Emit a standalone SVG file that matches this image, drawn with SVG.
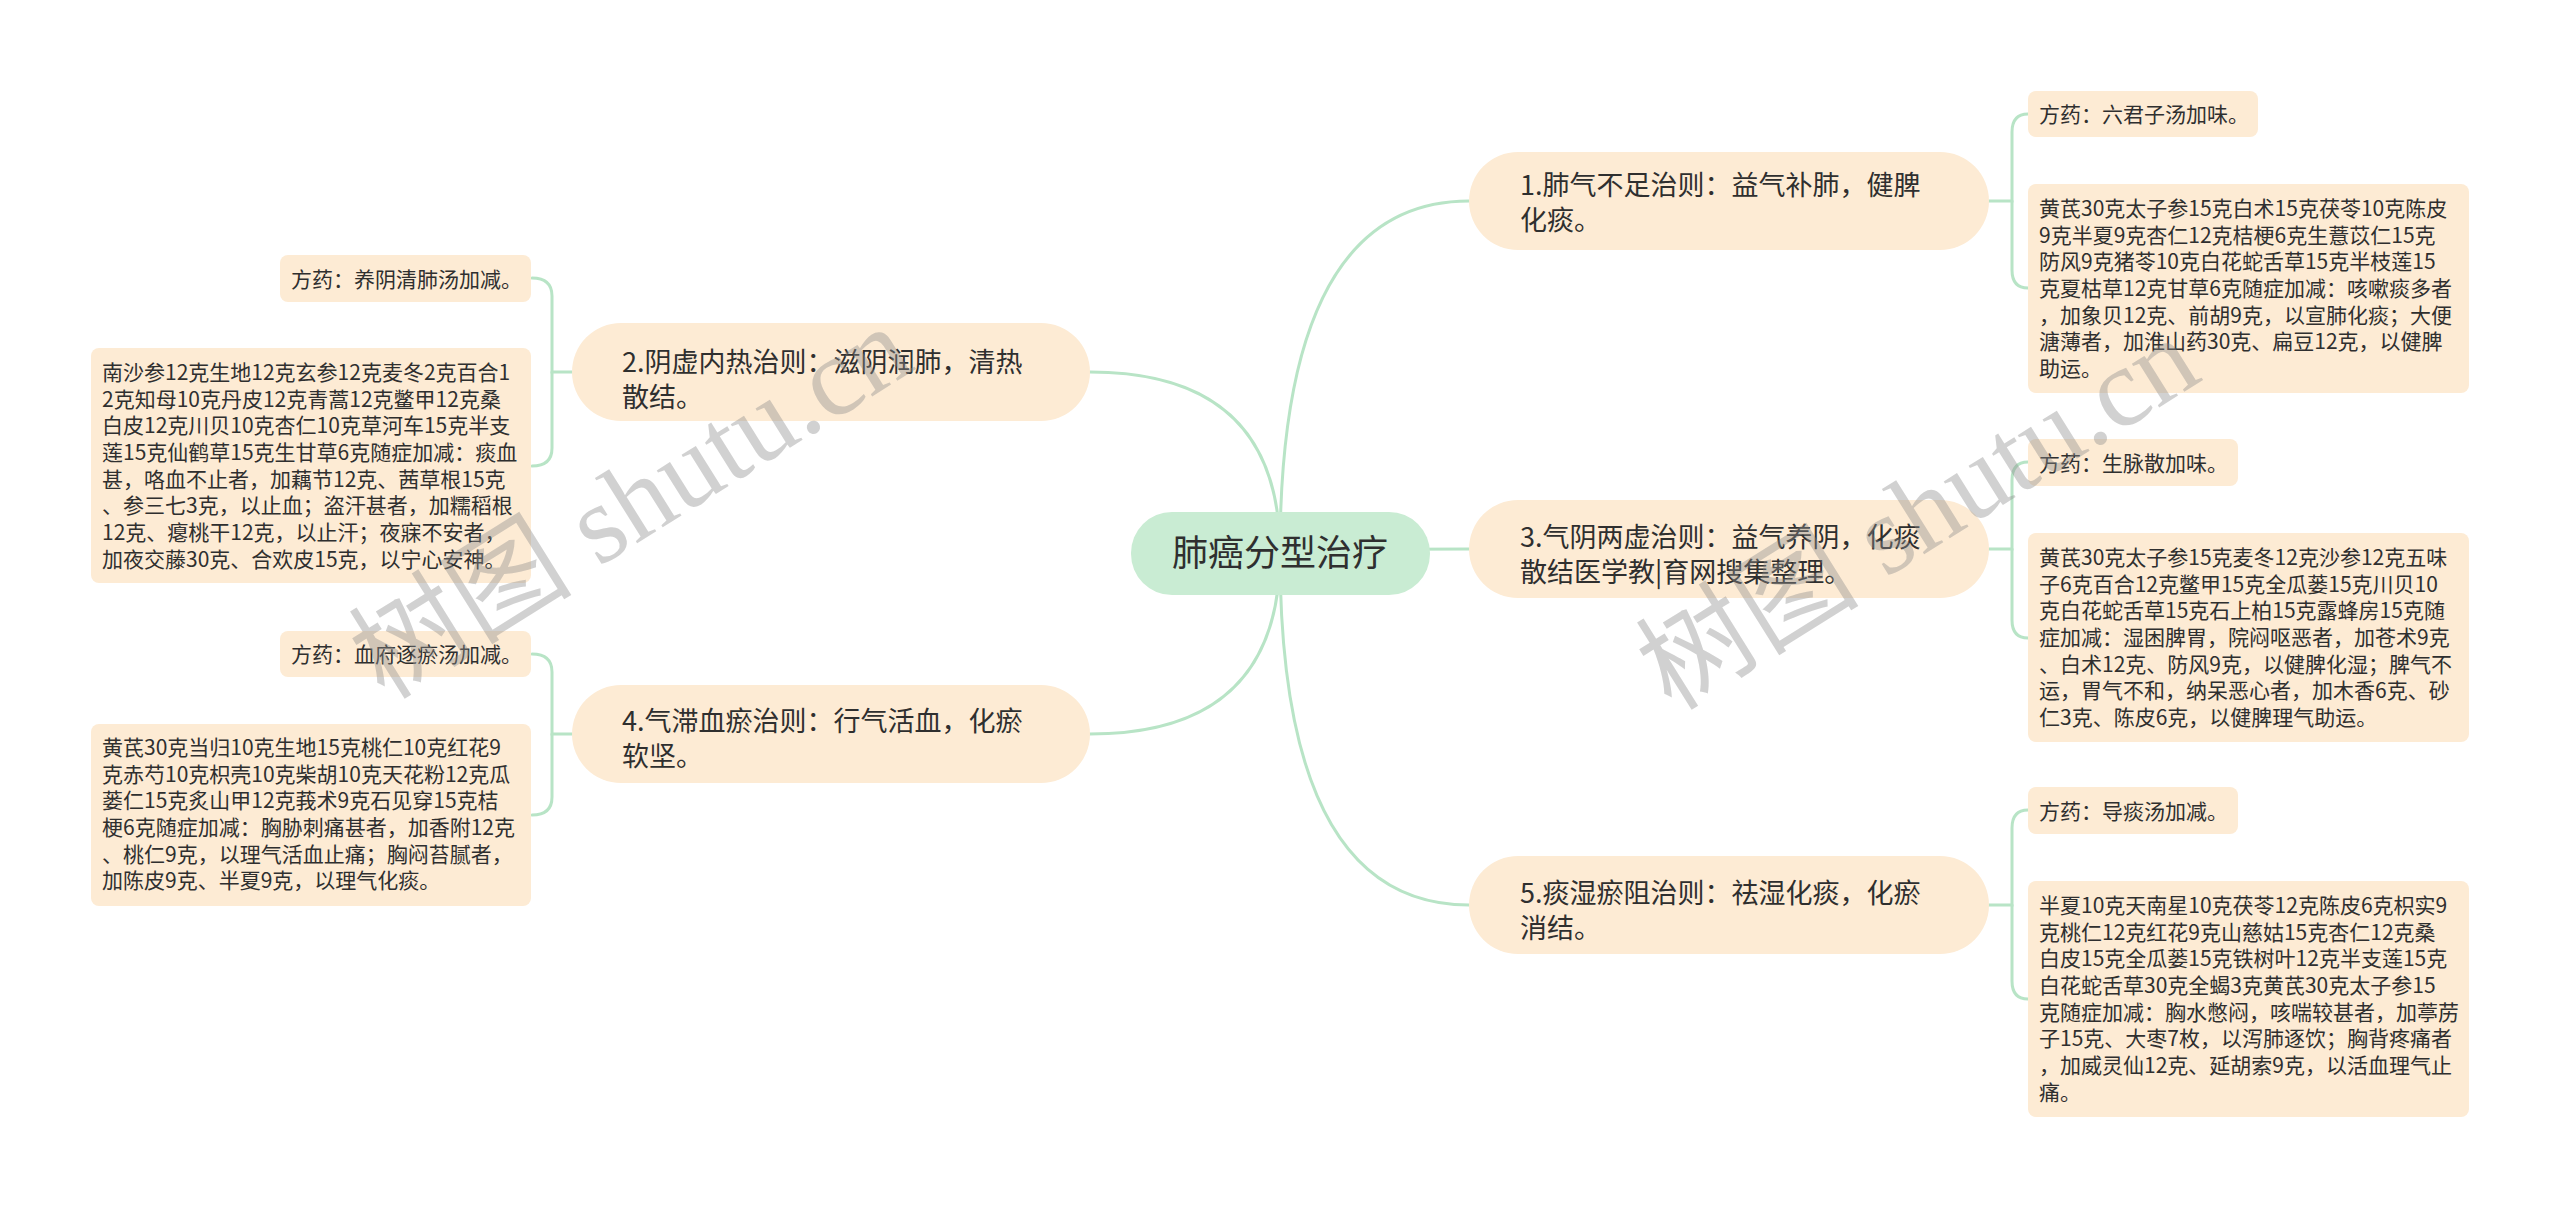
<svg xmlns="http://www.w3.org/2000/svg" width="2560" height="1208" viewBox="0 0 2560 1208">
<defs>
<style>
.bg{fill:#ffffff}
.conn{fill:none;stroke:#b8e4c6;stroke-width:3;stroke-linecap:round}
.root rect{fill:#c9ecd3}
.l1 rect{fill:#fdebd4}
.leaf rect{fill:#fdebd4}
text{font-family:"Noto Sans CJK SC","Noto Sans",sans-serif;fill:#2f2f2f}
.rt{font-size:36px}
.t1{font-size:27px}
.t2{font-size:21px}
.wm{font-family:"Liberation Serif","Noto Sans CJK SC",serif;font-size:112px;fill:#8c8c8c;fill-opacity:0.4}
</style>
</defs>
<rect class="bg" x="0" y="0" width="2560" height="1208"/>
<g id="connectors">
<path class="conn" d="M1280,553 Q1280,201 1469,201"/>
<path class="conn" d="M1280,553 Q1280,549 1469,549"/>
<path class="conn" d="M1280,553 Q1280,905 1469,905"/>
<path class="conn" d="M1280,553 Q1280,372 1090,372"/>
<path class="conn" d="M1280,553 Q1280,734 1090,734"/>
<path class="conn" d="M1989,201 H2012 V132 Q2012,114 2028,114"/>
<path class="conn" d="M2012,201 V270 Q2012,288 2028,288"/>
<path class="conn" d="M1989,549 H2012 V480 Q2012,462 2028,462"/>
<path class="conn" d="M2012,549 V620 Q2012,638 2028,638"/>
<path class="conn" d="M1989,905 H2012 V828 Q2012,810 2028,810"/>
<path class="conn" d="M2012,905 V981 Q2012,999 2028,999"/>
<path class="conn" d="M572,372 H552 V296 Q552,278 532,278"/>
<path class="conn" d="M552,372 V448 Q552,466 532,466"/>
<path class="conn" d="M572,734 H552 V672 Q552,654 532,654"/>
<path class="conn" d="M552,734 V797 Q552,815 532,815"/>
</g>
<g id="root" class="root">
<rect x="1131" y="512" width="299" height="83" rx="41"/>
<text class="rt" x="1280" y="566" text-anchor="middle">肺癌分型治疗</text>
</g>
<g id="n1" class="l1">
<rect x="1469" y="152" width="520" height="98" rx="49"/>
<text class="t1" x="1520" y="195">1.肺气不足治则：益气补肺，健脾</text>
<text class="t1" x="1520" y="230">化痰。</text>
</g>
<g id="n2" class="l1">
<rect x="572" y="323" width="518" height="98" rx="49"/>
<text class="t1" x="622" y="372">2.阴虚内热治则：滋阴润肺，清热</text>
<text class="t1" x="622" y="407">散结。</text>
</g>
<g id="n3" class="l1">
<rect x="1469" y="500" width="520" height="98" rx="49"/>
<text class="t1" x="1520" y="547">3.气阴两虚治则：益气养阴，化痰</text>
<text class="t1" x="1520" y="582">散结医学教|育网搜集整理。</text>
</g>
<g id="n4" class="l1">
<rect x="572" y="685" width="518" height="98" rx="49"/>
<text class="t1" x="622" y="731">4.气滞血瘀治则：行气活血，化瘀</text>
<text class="t1" x="622" y="766">软坚。</text>
</g>
<g id="n5" class="l1">
<rect x="1469" y="856" width="520" height="98" rx="49"/>
<text class="t1" x="1520" y="903">5.痰湿瘀阻治则：祛湿化痰，化瘀</text>
<text class="t1" x="1520" y="938">消结。</text>
</g>
<g id="n1a" class="leaf">
<rect x="2028" y="91" width="230" height="46" rx="8"/>
<text class="t2" x="2039" y="122">方药：六君子汤加味。</text>
</g>
<g id="n1b" class="leaf">
<rect x="2028" y="184" width="441" height="209" rx="8"/>
<text class="t2" x="2039" y="216">
<tspan x="2039" y="216">黄芪30克太子参15克白术15克茯苓10克陈皮</tspan>
<tspan x="2039" y="242.7">9克半夏9克杏仁12克桔梗6克生薏苡仁15克</tspan>
<tspan x="2039" y="269.3">防风9克猪苓10克白花蛇舌草15克半枝莲15</tspan>
<tspan x="2039" y="296">克夏枯草12克甘草6克随症加减：咳嗽痰多者</tspan>
<tspan x="2039" y="322.7">，加象贝12克、前胡9克，以宣肺化痰；大便</tspan>
<tspan x="2039" y="349.3">溏薄者，加淮山药30克、扁豆12克，以健脾</tspan>
<tspan x="2039" y="376">助运。</tspan>
</text>
</g>
<g id="n3a" class="leaf">
<rect x="2028" y="439" width="210" height="47" rx="8"/>
<text class="t2" x="2039" y="471">方药：生脉散加味。</text>
</g>
<g id="n3b" class="leaf">
<rect x="2028" y="533" width="441" height="209" rx="8"/>
<text class="t2" x="2039" y="565">
<tspan x="2039" y="565">黄芪30克太子参15克麦冬12克沙参12克五味</tspan>
<tspan x="2039" y="591.7">子6克百合12克鳖甲15克全瓜蒌15克川贝10</tspan>
<tspan x="2039" y="618.3">克白花蛇舌草15克石上柏15克露蜂房15克随</tspan>
<tspan x="2039" y="645">症加减：湿困脾胃，院闷呕恶者，加苍术9克</tspan>
<tspan x="2039" y="671.7">、白术12克、防风9克，以健脾化湿；脾气不</tspan>
<tspan x="2039" y="698.3">运，胃气不和，纳呆恶心者，加木香6克、砂</tspan>
<tspan x="2039" y="725">仁3克、陈皮6克，以健脾理气助运。</tspan>
</text>
</g>
<g id="n5a" class="leaf">
<rect x="2028" y="787" width="210" height="47" rx="8"/>
<text class="t2" x="2039" y="819">方药：导痰汤加减。</text>
</g>
<g id="n5b" class="leaf">
<rect x="2028" y="881" width="441" height="236" rx="8"/>
<text class="t2" x="2039" y="913">
<tspan x="2039" y="913">半夏10克天南星10克茯苓12克陈皮6克枳实9</tspan>
<tspan x="2039" y="939.7">克桃仁12克红花9克山慈姑15克杏仁12克桑</tspan>
<tspan x="2039" y="966.3">白皮15克全瓜蒌15克铁树叶12克半支莲15克</tspan>
<tspan x="2039" y="993">白花蛇舌草30克全蝎3克黄芪30克太子参15</tspan>
<tspan x="2039" y="1019.7">克随症加减：胸水憋闷，咳喘较甚者，加葶苈</tspan>
<tspan x="2039" y="1046.3">子15克、大枣7枚，以泻肺逐饮；胸背疼痛者</tspan>
<tspan x="2039" y="1073">，加威灵仙12克、延胡索9克，以活血理气止</tspan>
<tspan x="2039" y="1099.7">痛。</tspan>
</text>
</g>
<g id="n2a" class="leaf">
<rect x="280" y="255" width="251" height="47" rx="8"/>
<text class="t2" x="291" y="287">方药：养阴清肺汤加减。</text>
</g>
<g id="n2b" class="leaf">
<rect x="91" y="348" width="440" height="235" rx="8"/>
<text class="t2" x="102" y="380">
<tspan x="102" y="380">南沙参12克生地12克玄参12克麦冬2克百合1</tspan>
<tspan x="102" y="406.7">2克知母10克丹皮12克青蒿12克鳖甲12克桑</tspan>
<tspan x="102" y="433.3">白皮12克川贝10克杏仁10克草河车15克半支</tspan>
<tspan x="102" y="460">莲15克仙鹤草15克生甘草6克随症加减：痰血</tspan>
<tspan x="102" y="486.7">甚，咯血不止者，加藕节12克、茜草根15克</tspan>
<tspan x="102" y="513.3">、参三七3克，以止血；盗汗甚者，加糯稻根</tspan>
<tspan x="102" y="540">12克、瘪桃干12克，以止汗；夜寐不安者，</tspan>
<tspan x="102" y="566.7">加夜交藤30克、合欢皮15克，以宁心安神。</tspan>
</text>
</g>
<g id="n4a" class="leaf">
<rect x="280" y="631" width="251" height="46" rx="8"/>
<text class="t2" x="291" y="662">方药：血府逐瘀汤加减。</text>
</g>
<g id="n4b" class="leaf">
<rect x="91" y="724" width="440" height="182" rx="8"/>
<text class="t2" x="102" y="755">
<tspan x="102" y="755">黄芪30克当归10克生地15克桃仁10克红花9</tspan>
<tspan x="102" y="781.7">克赤芍10克枳壳10克柴胡10克天花粉12克瓜</tspan>
<tspan x="102" y="808.3">蒌仁15克炙山甲12克莪术9克石见穿15克桔</tspan>
<tspan x="102" y="835">梗6克随症加减：胸胁刺痛甚者，加香附12克</tspan>
<tspan x="102" y="861.7">、桃仁9克，以理气活血止痛；胸闷苔腻者，</tspan>
<tspan x="102" y="888.3">加陈皮9克、半夏9克，以理气化痰。</tspan>
</text>
</g>
<g id="watermarks">
<text class="wm" x="632" y="540" text-anchor="middle" transform="rotate(-32 632 504)">树图 shutu.cn</text>
<text class="wm" x="1919" y="551" text-anchor="middle" transform="rotate(-32 1919 515)">树图 shutu.cn</text>
</g>
</svg>
